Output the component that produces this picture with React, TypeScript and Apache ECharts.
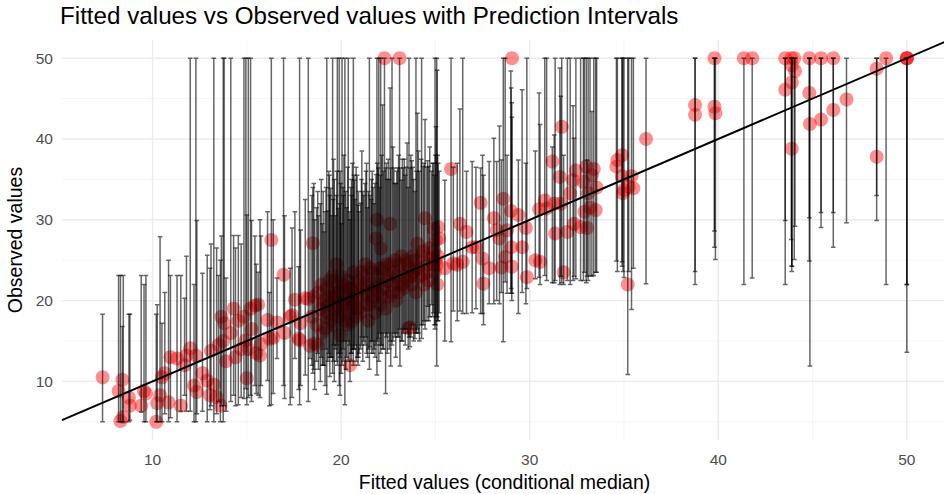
import React, { useEffect, useRef } from "react";
import * as echarts from "echarts";

// Each row: [fitted (conditional median), observed, lower bound, upper bound]
type Row = [number, number, number, number];

const lowRange: Row[] = [
  [7.35, 10.5, 5.0, 18.3], [8.2, 8.8, 5.0, 23.1], [8.3, 5.1, 5.0, 23.1], [8.4, 10.2, 5.0, 16.8],
  [8.45, 5.6, 5.0, 23.1], [8.75, 8.0, 5.0, 18.3], [8.8, 7.0, 5.2, 18.3], [9.4, 7.0, 6.2, 23.1],
  [9.55, 8.8, 5.0, 22.0], [9.65, 8.5, 5.0, 23.1], [10.2, 5.0, 5.0, 18.3], [10.25, 7.3, 5.0, 19.5],
  [10.4, 8.3, 5.0, 27.9], [10.5, 10.5, 5.0, 17.2], [10.65, 11.0, 6.0, 21.0], [10.85, 7.4, 5.0, 25.0],
  [10.95, 13.0, 5.5, 23.1], [11.3, 12.85, 5.0, 23.1], [11.5, 7.0, 6.3, 23.1], [11.7, 12.0, 8.3, 20.3],
  [11.8, 13.2, 6.3, 25.5], [12.0, 14.1, 6.3, 50], [12.2, 9.5, 5.0, 22.0], [12.3, 13.2, 5.0, 50],
  [12.35, 8.7, 6.0, 29.9], [12.65, 11.0, 6.3, 23.4], [12.9, 10.1, 5.0, 25.6], [13.05, 8.3, 6.5, 24.0],
  [13.1, 13.8, 7.0, 27.0], [13.25, 9.6, 5.0, 50], [13.4, 8.05, 6.0, 26.5], [13.5, 14.5, 7.5, 23.1],
  [13.6, 7.0, 5.0, 25.0], [13.65, 18.0, 7.0, 28.0], [13.75, 15.0, 5.0, 50], [13.8, 17.2, 7.0, 50],
  [13.9, 12.5, 6.3, 22.8], [14.15, 16.0, 7.5, 50], [14.3, 19.0, 8.3, 28.05], [14.4, 13.0, 7.0, 26.5],
  [14.55, 17.5, 7.1, 28.05], [14.7, 14.0, 8.0, 27.0], [14.85, 18.0, 7.9, 50], [14.95, 15.1, 9.1, 50],
  [15.0, 10.4, 7.1, 30.6], [15.08, 14.0, 8.0, 50], [15.2, 19.0, 8.3, 50], [15.25, 16.5, 7.5, 29.9],
  [15.43, 19.4, 9.5, 28.0], [15.5, 13.5, 8.5, 24.5], [15.6, 19.5, 8.3, 23.5], [15.7, 13.2, 8.0, 30.0],
  [15.75, 14.6, 9.5, 28.0], [16.1, 17.6, 10.1, 31.0], [16.2, 15.3, 7.0, 21.0], [16.3, 27.5, 7.1, 50],
  [16.4, 15.4, 8.5, 30.0], [16.6, 17.3, 12.85, 22.8], [16.95, 23.2, 9.5, 50], [17.0, 16.0, 7.9, 30.5],
  [17.3, 18.0, 7.1, 24.0], [17.4, 18.2, 8.0, 29.0], [17.55, 20.1, 12.85, 31.0], [17.75, 15.3, 9.0, 24.2],
  [17.8, 15.1, 7.1, 50], [17.85, 17.2, 9.5, 28.75], [18.1, 20.3, 10.8, 32.5], [18.26, 20.2, 7.5, 50],
  [18.35, 14.4, 12.85, 31.0],
];

const midRange: Row[] = [
  [18.5, 27.1, 11.0, 34.0], [18.6, 14.7, 9.0, 30.0], [18.76, 14.5, 13.5, 33.5], [18.9, 19.0, 10.0, 32.0],
  [19.0, 16.0, 12.0, 29.5], [19.15, 16.55, 9.5, 31.0], [19.24, 21.5, 8.4, 50], [19.3, 18.5, 12.5, 31.1],
  [19.4, 20.5, 10.6, 33.0], [19.45, 17.5, 13.0, 33.9], [19.55, 23.0, 11.0, 50], [19.64, 22.35, 10.0, 35.0],
  [19.7, 19.0, 14.0, 30.5], [19.8, 19.45, 12.0, 50], [19.85, 21.0, 13.5, 31.4], [19.9, 18.0, 9.5, 50],
  [19.94, 15.7, 8.3, 32.0], [20.05, 20.0, 12.0, 50], [20.1, 22.0, 14.0, 34.0], [20.2, 19.5, 7.1, 50],
  [20.3, 17.0, 13.0, 31.5], [20.38, 21.5, 12.5, 50], [20.47, 12.0, 10.0, 30.0], [20.56, 17.4, 13.5, 33.0],
  [20.65, 23.5, 12.0, 50], [20.7, 21.1, 14.0, 34.9], [20.74, 19.0, 14.5, 32.5], [20.85, 20.5, 13.0, 35.5],
  [20.95, 22.5, 13.5, 31.0], [21.04, 18.5, 14.0, 32.05], [21.15, 20.7, 12.5, 33.5], [21.27, 24.5, 14.5, 34.5],
  [21.4, 21.0, 13.0, 31.5], [21.5, 19.5, 11.5, 50], [21.53, 24.0, 14.3, 33.0], [21.6, 22.0, 15.0, 32.5],
  [21.7, 20.5, 13.5, 34.0], [21.85, 27.7, 14.5, 35.6], [21.9, 30.0, 10.8, 50], [21.97, 23.0, 15.3, 36.4],
  [22.0, 22.0, 12.5, 50], [22.1, 26.45, 13.5, 50], [22.2, 21.5, 14.0, 44.2], [22.3, 50.0, 16.0, 50],
  [22.36, 19.0, 8.5, 36.4], [22.45, 22.5, 13.5, 35.0], [22.6, 29.5, 15.0, 46.3], [22.63, 24.5, 11.9, 36.4],
  [22.7, 21.0, 14.5, 50], [22.8, 23.5, 16.0, 36.4], [22.9, 20.0, 13.0, 34.5], [23.0, 22.0, 15.5, 36.4],
  [23.1, 50.0, 16.5, 50], [23.12, 24.4, 11.9, 36.4], [23.2, 25.5, 15.0, 34.9], [23.3, 21.5, 16.0, 36.4],
  [23.4, 23.0, 14.5, 35.5], [23.56, 16.55, 14.0, 34.0], [23.6, 24.0, 15.5, 50], [23.65, 16.7, 14.3, 36.4],
  [23.75, 22.0, 16.5, 37.3], [23.85, 23.6, 15.0, 35.0], [23.92, 25.0, 15.3, 33.5], [23.97, 21.0, 16.0, 50],
  [24.05, 27.05, 16.5, 43.2], [24.15, 23.0, 15.0, 36.0], [24.27, 23.2, 15.3, 50], [24.35, 26.1, 17.0, 36.6],
  [24.45, 30.2, 16.5, 42.4], [24.59, 24.5, 19.3, 37.3], [24.65, 22.5, 17.5, 36.6], [24.8, 25.25, 19.5, 36.0],
  [24.9, 28.9, 18.5, 37.0], [24.95, 26.2, 17.0, 35.5], [24.98, 23.5, 16.5, 50], [25.03, 27.5, 18.0, 41.5],
  [25.07, 24.4, 11.9, 50], [25.1, 22.0, 18.0, 48.5], [25.15, 29.1, 17.5, 37.0], [25.2, 27.7, 18.5, 36.0],
  [19.1, 20.0, 12.0, 28.5], [19.5, 21.0, 13.0, 30.5], [20.0, 21.5, 11.0, 29.5], [20.45, 20.0, 14.5, 31.0],
  [20.9, 22.0, 12.0, 31.8], [21.2, 23.0, 15.0, 33.0], [21.75, 21.5, 14.0, 32.0], [22.05, 24.0, 16.0, 34.0],
  [18.8, 21.0, 11.5, 30.5], [19.75, 24.5, 12.5, 33.0],
  [19.35, 19.5, 13.5, 36.0], [19.6, 20.5, 14.5, 37.5], [19.95, 18.5, 13.0, 36.0], [20.15, 21.0, 15.0, 38.0],
  [20.6, 20.0, 14.0, 37.0], [20.8, 18.0, 12.5, 36.5], [21.1, 21.5, 15.5, 38.5], [21.35, 19.5, 13.5, 37.0],
  [21.65, 23.5, 15.0, 36.0], [22.15, 20.5, 14.5, 38.0], [22.5, 23.0, 16.0, 37.5], [22.75, 22.0, 15.0, 39.0],
  [23.05, 21.0, 15.5, 38.0], [23.35, 24.5, 16.5, 37.5], [23.5, 22.5, 16.0, 39.5], [23.8, 25.5, 17.0, 36.5],
  [24.1, 24.0, 16.0, 38.5], [24.4, 22.0, 17.5, 37.0], [24.7, 26.5, 18.0, 39.0], [25.0, 25.0, 17.0, 38.0],
  [20.25, 17.5, 11.5, 33.5], [20.55, 19.0, 12.5, 35.0], [21.8, 18.5, 13.0, 34.5], [22.25, 24.0, 14.0, 36.0],
  [22.85, 25.0, 15.5, 34.5],
];

const denseCore: Row[] = [
  [18.45, 18.0, 12.0, 33.0], [18.55, 20.5, 11.5, 34.5], [18.7, 17.0, 12.5, 31.5], [18.95, 22.0, 13.0, 35.0],
  [19.05, 19.5, 12.0, 33.5], [19.2, 18.0, 14.0, 34.0], [19.38, 22.5, 13.0, 35.5], [19.58, 17.0, 12.5, 32.5],
  [19.78, 20.5, 14.5, 36.0], [19.98, 23.0, 13.5, 34.5], [20.12, 18.5, 12.5, 33.0], [20.35, 22.5, 15.0, 36.5],
  [20.52, 21.5, 13.5, 34.0], [20.68, 19.5, 14.0, 35.5], [20.92, 19.0, 13.0, 33.5], [21.08, 23.5, 14.5, 35.0],
  [21.32, 22.0, 15.5, 36.0], [21.45, 17.5, 14.0, 33.5], [21.62, 20.0, 13.5, 35.0], [21.92, 21.0, 15.0, 37.0],
  [22.08, 19.5, 14.5, 35.5], [22.4, 24.5, 15.5, 37.0], [22.55, 20.5, 14.0, 35.0], [22.95, 23.0, 16.0, 36.0],
  [23.25, 22.0, 15.0, 37.5], [23.45, 25.0, 16.5, 36.5], [23.7, 23.0, 15.5, 38.0], [24.0, 24.0, 16.0, 36.0],
  [24.25, 25.5, 17.0, 37.5], [24.55, 23.5, 17.5, 36.5], [24.85, 24.5, 18.0, 37.0], [25.12, 25.5, 17.5, 38.0],
];

const upperMidRange: Row[] = [
  [25.5, 24.0, 15.0, 34.9], [25.83, 36.3, 14.9, 50], [25.95, 24.6, 18.7, 36.5], [26.16, 24.45, 17.5, 37.0],
  [26.3, 29.5, 18.7, 43.7], [26.45, 24.8, 18.4, 50], [26.65, 28.5, 18.4, 36.0], [26.95, 26.6, 18.5, 37.2],
  [27.15, 26.6, 19.0, 36.5], [27.4, 32.1, 18.4, 36.4], [27.5, 25.2, 18.4, 38.0], [27.55, 22.1, 17.0, 35.5],
  [27.85, 24.0, 19.6, 37.2], [28.1, 30.2, 19.6, 40.1], [28.25, 28.7, 20.0, 37.2], [28.4, 27.7, 19.6, 41.6],
  [28.5, 24.1, 21.0, 37.4], [28.6, 32.6, 14.9, 50], [28.7, 25.4, 22.3, 50], [28.8, 28.7, 20.9, 38.0],
  [29.0, 31.1, 20.9, 48.4], [29.02, 26.6, 21.5, 46.3], [29.05, 24.2, 20.0, 44.5], [29.06, 50.0, 20.9, 42.7],
  [29.4, 30.6, 18.4, 37.4], [29.6, 26.6, 21.0, 46.1], [29.8, 29.0, 19.6, 37.0], [29.85, 22.9, 21.5, 50],
  [30.3, 25.0, 22.7, 38.5], [30.5, 31.3, 22.9, 45.7], [30.55, 24.8, 22.0, 41.8], [30.8, 32.4, 23.1, 50],
  [30.9, 31.4, 22.5, 50], [31.2, 37.2, 22.2, 39.0], [31.3, 32.0, 22.2, 40.5], [31.35, 28.3, 22.5, 50],
  [31.6, 35.3, 22.0, 48.8], [31.65, 32.0, 23.0, 45.3], [31.7, 41.5, 22.2, 50], [31.8, 23.5, 22.0, 38.0],
  [32.0, 28.5, 22.5, 50], [32.15, 33.3, 22.0, 50], [32.3, 34.9, 22.5, 44.1], [32.35, 29.5, 23.0, 40.1],
  [32.45, 36.1, 22.7, 50], [32.7, 29.1, 22.5, 50], [32.85, 34.7, 22.5, 50], [32.9, 31.0, 23.5, 50],
  [33.0, 36.6, 22.2, 50], [33.05, 29.0, 23.0, 37.4], [33.1, 33.3, 22.5, 50], [33.2, 31.5, 23.1, 50],
  [33.3, 35.5, 23.0, 43.4], [33.4, 36.3, 23.1, 50], [33.5, 31.2, 23.5, 50], [33.55, 34.0, 23.5, 50],
];

const highRange: Row[] = [
  [34.6, 36.6, 24.9, 50], [34.65, 37.4, 23.6, 50], [34.9, 38.0, 24.8, 50], [34.9, 35.4, 24.25, 50],
  [34.95, 33.3, 23.6, 50], [35.0, 33.7, 22.85, 50], [35.2, 22.0, 10.85, 50], [35.25, 34.1, 23.6, 50],
  [35.4, 35.4, 18.9, 50], [35.5, 33.9, 24.0, 50], [36.17, 40.0, 22.1, 50], [38.77, 44.2, 23.6, 50],
  [38.77, 43.0, 22.0, 50], [39.8, 50.0, 28.6, 50], [39.8, 44.0, 26.6, 50], [39.85, 43.2, 25.1, 50],
  [41.36, 50.0, 22.0, 50], [41.8, 50.0, 22.8, 50], [43.55, 50.0, 29.9, 50], [43.55, 46.1, 22.0, 50],
  [43.87, 50.0, 27.55, 50], [43.9, 49.1, 24.25, 50], [43.9, 47.0, 23.6, 50], [43.9, 38.8, 24.25, 50],
  [44.07, 48.4, 29.2, 50], [44.03, 50.0, 25.1, 50], [44.83, 50.0, 30.25, 50], [44.83, 45.7, 24.9, 50],
  [44.86, 41.85, 11.9, 50], [45.45, 50.0, 30.9, 50], [45.45, 42.4, 29.05, 50], [46.1, 50.0, 30.9, 50],
  [46.1, 43.6, 26.6, 50], [46.8, 44.9, 29.65, 50], [48.4, 48.7, 33.0, 50], [48.4, 37.8, 29.9, 50],
  [48.9, 50.0, 22.0, 50], [50.0, 50.0, 22.0, 50], [50.0, 50.0, 13.6, 50], [50.0, 50.0, 22.0, 50],
];

const xTicks = [10, 20, 30, 40, 50];
const yTicks = [10, 20, 30, 40, 50];
const xMinorGrid = [15, 25, 35, 45];
const yMinorGrid = [5, 15, 25, 35, 45];
const xLimits = [5.2, 52.13];
const yLimits = [2.75, 52.25];

const FONT = "'Liberation Sans', Arial, sans-serif";

export default function App() {
  const ref = useRef<HTMLDivElement>(null);

  useEffect(() => {
    if (!ref.current) return;
    const chart = echarts.init(ref.current, undefined, { renderer: "svg" });
    const rows = [...lowRange, ...midRange, ...denseCore, ...upperMidRange, ...highRange];

    // grid lines: [value, orientation (0 = vertical, 1 = horizontal), major flag]
    const gridLines = [
      ...xTicks.map((v) => [v, 0, 1]),
      ...xMinorGrid.map((v) => [v, 0, 0]),
      ...yTicks.map((v) => [v, 1, 1]),
      ...yMinorGrid.map((v) => [v, 1, 0]),
    ];

    chart.setOption({
      animation: false,
      title: {
        text: "Fitted values vs Observed values with Prediction Intervals",
        left: 60,
        top: 3,
        padding: 0,
        textStyle: { fontFamily: FONT, fontSize: 24.2, fontWeight: "normal", color: "#000" },
      },
      grid: { left: 62, right: -3, top: 40, bottom: 54, outerBoundsMode: "none" },
      xAxis: {
        type: "value",
        min: xLimits[0],
        max: xLimits[1],
        name: "Fitted values (conditional median)",
        nameLocation: "middle",
        nameGap: 32,
        nameTextStyle: { fontFamily: FONT, fontSize: 19.5, color: "#000" },
        axisLine: { show: false },
        axisTick: { show: false },
        splitLine: { show: false },
        axisLabel: {
          customValues: xTicks,
          margin: 11,
          fontFamily: FONT,
          fontSize: 15.5,
          color: "#4d4d4d",
        },
      },
      yAxis: {
        type: "value",
        min: yLimits[0],
        max: yLimits[1],
        name: "Observed values",
        nameLocation: "middle",
        nameGap: 31,
        nameTextStyle: { fontFamily: FONT, fontSize: 19.5, color: "#000" },
        axisLine: { show: false },
        axisTick: { show: false },
        splitLine: { show: false },
        axisLabel: {
          customValues: yTicks,
          margin: 9,
          fontFamily: FONT,
          fontSize: 15.5,
          color: "#4d4d4d",
        },
      },
      series: [
        {
          type: "custom",
          silent: true,
          z: 1,
          clip: false,
          data: gridLines,
          renderItem: (params: any, api: any) => {
            const v = api.value(0);
            const dir = api.value(1);
            const major = api.value(2) === 1;
            const cs = params.coordSys;
            const style = { stroke: major ? "#ebebeb" : "#f3f3f3", lineWidth: major ? 1.4 : 0.9 };
            if (dir === 0) {
              const p = api.coord([v, yLimits[0]]);
              return { type: "line", shape: { x1: p[0], y1: cs.y, x2: p[0], y2: cs.y + cs.height }, style };
            }
            const p = api.coord([xLimits[0], v]);
            return { type: "line", shape: { x1: cs.x, y1: p[1], x2: cs.x + cs.width, y2: p[1] }, style };
          },
        },
        {
          type: "scatter",
          silent: true,
          z: 2,
          symbolSize: 14,
          itemStyle: { color: "rgba(255,0,0,0.55)" },
          data: rows.map((r) => [r[0], r[1]]),
        },
        {
          type: "custom",
          silent: true,
          z: 3,
          clip: true,
          encode: { x: 0, y: [1, 2] },
          data: rows.map((r) => [r[0], r[2], r[3]]),
          renderItem: (_params: any, api: any) => {
            const x = api.value(0);
            const lo = api.coord([x, api.value(1)]);
            const hi = api.coord([x, api.value(2)]);
            const hw = 2.3;
            return {
              type: "polyline",
              shape: {
                points: [
                  [hi[0] - hw, hi[1]],
                  [hi[0] + hw, hi[1]],
                  [hi[0], hi[1]],
                  [lo[0], lo[1]],
                  [lo[0] - hw, lo[1]],
                  [lo[0] + hw, lo[1]],
                ],
              },
              style: { stroke: "rgba(0,0,0,0.6)", lineWidth: 1.5, fill: "none" },
            };
          },
        },
        {
          type: "line",
          silent: true,
          z: 4,
          showSymbol: false,
          symbol: "none",
          lineStyle: { color: "#000", width: 2 },
          data: [
            [xLimits[0], xLimits[0]],
            [xLimits[1], xLimits[1]],
          ],
        },
      ],
    });

    return () => chart.dispose();
  }, []);

  return (
    <div
      ref={ref}
      style={{ position: "absolute", left: 0, top: 0, width: 944, height: 494, background: "#fff" }}
    />
  );
}
